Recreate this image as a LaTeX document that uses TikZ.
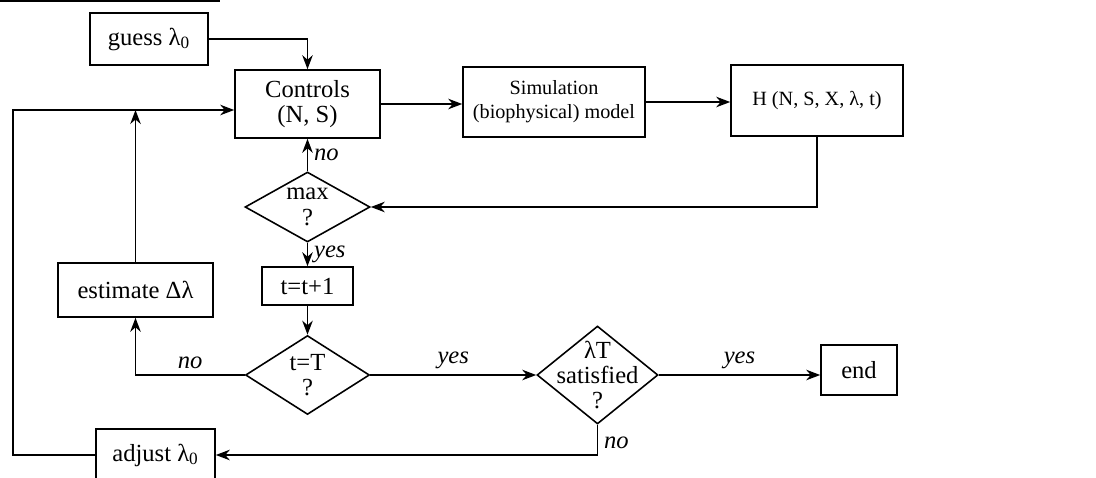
\documentclass[tikz,border=0pt]{standalone}
\usepackage{fontspec}
\setmainfont{Liberation Serif}
\usetikzlibrary{shapes.geometric,arrows.meta}
\tikzset{
  block/.style={draw, line width=0.9pt, align=center, inner sep=2pt},
  decision/.style={draw, diamond, line width=0.9pt, inner sep=0pt},
  flow/.style={line width=0.9pt, -{Stealth[length=8pt,width=6pt]}},
  ans/.style={font=\fontsize{14}{15}\selectfont\itshape},
  small/.style={font=\fontsize{11.5}{13.5}\selectfont}
}
\begin{document}
\begin{tikzpicture}[x=0.02cm, y=-0.02cm, font=\fontsize{14}{14.5}\selectfont]
    \useasboundingbox (0,0) rectangle (1096,477);
    \draw[line width=1pt] (0,1) -- (220,1);

    % boxes
    \node[block, minimum width=2.36cm, minimum height=1.04cm] (guess) at (149,39) {guess λ\textsubscript{0}};
    \node[block, minimum width=2.9cm, minimum height=1.36cm] (ctrl) at (307.5,104) {Controls\\(N, S)};
    \node[block, small, minimum width=3.64cm, minimum height=1.4cm] (sim) at (554,102) {Simulation\\(biophysical) model};
    \node[block, small, minimum width=3.44cm, minimum height=1.42cm] (H) at (817,100.5) {H (N, S, X, λ, t)};
    \node[block, minimum width=1.82cm, minimum height=0.76cm] (tinc) at (307.5,286) {t=t+1};
    \node[block, minimum width=3.1cm, minimum height=1.08cm] (est) at (135.5,290) {estimate Δλ};
    \node[block, minimum width=1.52cm, minimum height=1.0cm] (end) at (859,370) {end};
    \node[block, minimum width=2.38cm, minimum height=1.04cm] (adjust) at (155.5,455) {adjust λ\textsubscript{0}};

    % decisions
    \node[decision, minimum width=2.5cm, minimum height=1.4cm, label={[align=center]center:max\\?}] (max) at (307.5,207) {};
    \node[decision, minimum width=2.48cm, minimum height=1.58cm, label={[align=center]center:t=T\\?}] (tT) at (307.5,375) {};
    \node[decision, minimum width=2.42cm, minimum height=1.96cm, label={[align=center]center:λT\\satisfied\\?}] (lamT) at (597.5,375) {};

    \coordinate (loop) at (13,110);

    % connectors
    \draw[flow] (guess.east) -| (ctrl.north);
    \draw[flow] (ctrl.east) -- (ctrl.east -| sim.west);
    \draw[flow] (sim.east) -- (sim.east -| H.west);
    \draw[flow] (H.south) |- (max.east);
    \draw[flow] (max.north) -- node[ans, right]{no} (ctrl.south);
    \draw[flow] (max.south) -- node[ans, right]{yes} (tinc.north);
    \draw[flow] (tinc.south) -- (tT.north);
    \draw[flow] (tT.west) -| node[ans, pos=0.25, above]{no} (est.south);
    \draw[flow] (est.north) -- (est.north |- loop);
    \draw[flow] (adjust.west) -| (loop) -- (loop -| ctrl.west);
    \draw[flow] (tT.east) -- node[ans, above]{yes} (lamT.west);
    \draw[flow] (lamT.east) -- node[ans, above]{yes} (lamT.east -| end.west);
    \draw[flow] (lamT.south) |- node[ans, pos=0.3, right]{no} (adjust.east);
\end{tikzpicture}
\end{document}
